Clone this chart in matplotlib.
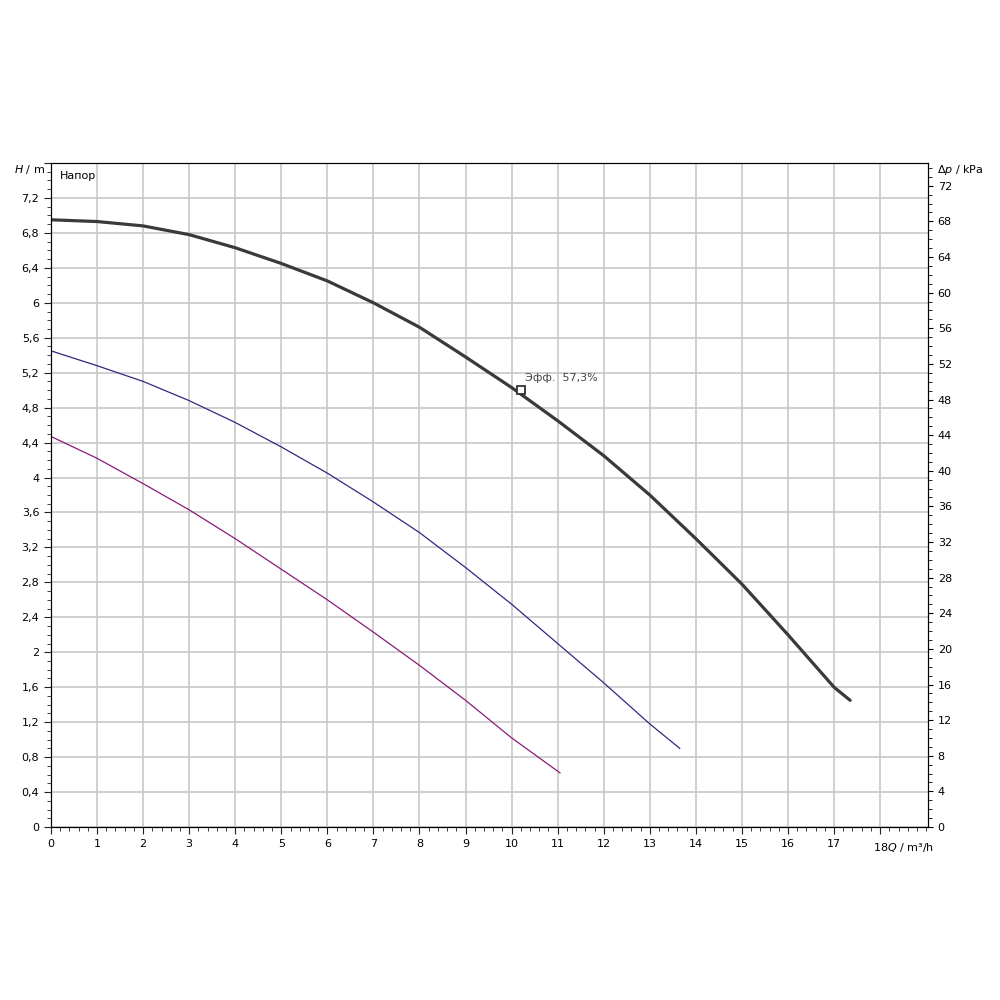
import matplotlib
matplotlib.use("Agg")
import matplotlib.pyplot as plt
import numpy as np
from matplotlib.ticker import MultipleLocator

q_max = [0,1,2,3,4,5,6,7,8,9,10,11,12,13,14,15,16,17,17.35]
h_max = [6.95,6.93,6.88,6.78,6.63,6.45,6.25,6.0,5.72,5.38,5.03,4.65,4.25,3.8,3.3,2.78,2.2,1.6,1.45]
q_mid = [0,1,2,3,4,5,6,7,8,9,10,11,12,13,13.65]
h_mid = [5.45,5.28,5.1,4.88,4.63,4.35,4.05,3.72,3.37,2.97,2.55,2.1,1.65,1.18,0.9]
q_min = [0,1,2,3,4,5,6,7,8,9,10,11.05]
h_min = [4.47,4.22,3.93,3.63,3.3,2.95,2.6,2.23,1.85,1.45,1.02,0.62]
eff_q, eff_h, eff_label = 10.2, 5.0, "Эфф.  57,3%"

fig = plt.figure(figsize=(10,10), dpi=100)
ax = fig.add_axes([0.051, 0.173, 0.877, 0.664])
ax.set_xlim(0, 19.04)
ax.set_ylim(0, 7.6)
ax.plot(q_max, h_max, color="#3a3a3a", lw=2.3, solid_joinstyle="round", solid_capstyle="round")
ax.plot(q_mid, h_mid, color="#2e2a80", lw=0.9, solid_joinstyle="round")
ax.plot(q_min, h_min, color="#8a1a78", lw=0.9, solid_joinstyle="round")
ax.plot([eff_q], [eff_h], marker="s", ms=6, mfc="white", mec="#333", mew=1.3)
ax.text(eff_q+0.1, eff_h+0.1, eff_label, fontsize=8, color="#444")
ax.text(0.2, 7.45, "Напор", fontsize=8, va="center")

ax.xaxis.set_minor_locator(MultipleLocator(0.2))
ax.yaxis.set_minor_locator(MultipleLocator(0.1))
ax.set_xticks(range(0, 19))
ax.set_xticklabels([str(i) for i in range(18)] + [""])
ax.set_yticks(np.arange(0, 7.61, 0.4))
ax.set_yticklabels([("%g" % round(v, 1)).replace(".", ",") if v < 7.5 else "" for v in np.arange(0, 7.61, 0.4)])
ax.grid(True, which="major", color="#c8c8c8", lw=1.2)
ax.tick_params(which="both", direction="out", labelsize=8, color="#222")
ax.tick_params(which="minor", length=3)
ax.tick_params(which="major", length=5)
for s in ax.spines.values():
    s.set_color("#222")
ax.text(-0.007, 1.0, "$H$ / m", transform=ax.transAxes, ha="right", va="top", fontsize=8)
ax.text(17.85, -0.23, "18$Q$ / m³/h", fontsize=8, va="center")

ax2 = ax.twinx()
ax2.set_ylim(0, 7.6*9.81)
ax2.set_yticks(range(0, 73, 4))
ax2.yaxis.set_minor_locator(MultipleLocator(1))
ax2.tick_params(which="both", direction="out", labelsize=8)
ax2.tick_params(which="minor", length=3)
ax2.text(1.01, 1.0, "Δ$p$ / kPa", transform=ax.transAxes, ha="left", va="top", fontsize=8)
fig.savefig("out.png", dpi=100)
